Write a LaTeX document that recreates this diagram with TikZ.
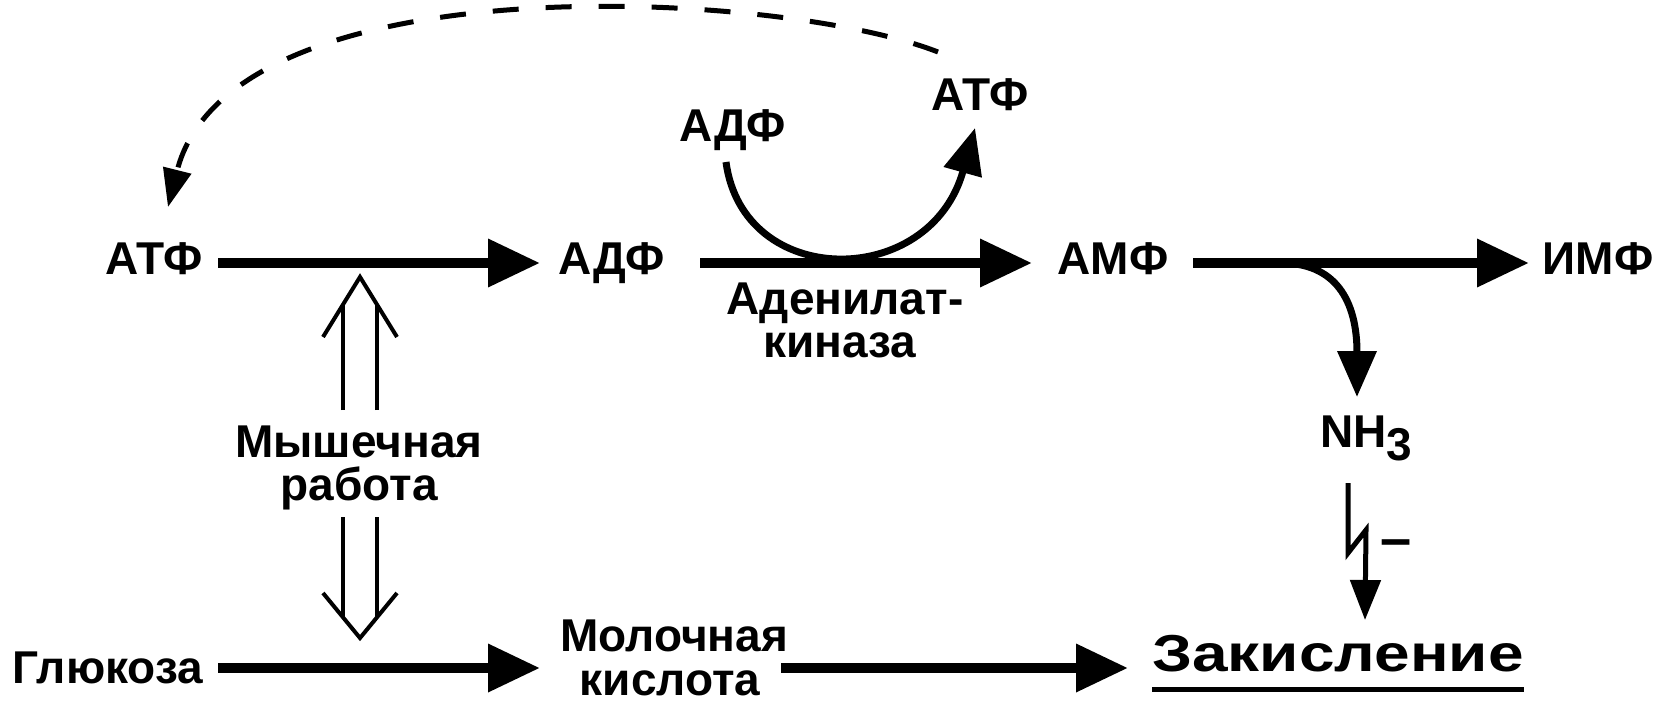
\documentclass[tikz,border=0pt]{standalone}
\usepackage{fontspec}
\usepackage{graphicx}
\setmainfont{Liberation Sans}
\usetikzlibrary{arrows.meta}
\begin{document}
\begin{tikzpicture}[x=1pt,y=-1pt,
  lbl/.style={font=\fontsize{46}{46}\selectfont\bfseries, inner sep=0pt, anchor=base},
  bigarrow/.style={line width=10pt, -{Triangle[length=52pt,width=46pt]}},
  curvearrow/.style={line width=7pt, -{Triangle[length=46pt,width=38pt]}},
  openline/.style={line width=4pt},
  dasharrow/.style={line width=5pt, dash pattern=on 26pt off 27pt, -{Triangle[length=38pt,width=28pt]}},
  lightarrow/.style={line width=5pt, -{Triangle[length=40pt,width=30pt]}},
]
\useasboundingbox (0,0) rectangle (1654,703);

% labels
\node[lbl] (atpL) at (154,275) {АТФ};
\node[lbl] (adp) at (612,275) {АДФ};
\node[lbl] (amp) at (1113,275) {АМФ};
\node[lbl] (imp) at (1598,275) {ИМФ};
\node[lbl] (adpT) at (733,142) {АДФ};
\node[lbl] (atpT) at (980,111) {АТФ};
\node[lbl] (aden1) at (845,315) {Аденилат-};
\node[lbl] (aden2) at (840,357) {киназа};
\node[lbl] (work1) at (359,457) {Мышечная};
\node[lbl] (work2) at (359,500) {работа};
\node[lbl] (glu) at (108,683) {Глюкоза};
\node[lbl] (lac1) at (674,651) {Молочная};
\node[lbl] (lac2) at (670,695) {кислота};
\node[lbl, font=\fontsize{52}{52}\selectfont\bfseries] (acid) at (1338,671) {\scalebox{1.23}[1]{Закисление}};
\node[lbl] (nh3) at (1366,447) {NH\lower13pt\hbox{3}};
\node[lbl, font=\fontsize{56}{56}\selectfont\bfseries] (minus) at (1396,557) {–};

% main arrows
\draw[bigarrow] ([shift={(64,-12)}]atpL.base) -- ([shift={(-72,-12)}]adp.base);
\draw[bigarrow] ([shift={(88,-12)}]adp.base) -- ([shift={(-81,-12)}]amp.base);
\draw[bigarrow] ([shift={(80,-12)}]amp.base) -- ([shift={(-69,-12)}]imp.base);
\draw[bigarrow] ([shift={(110,-15)}]glu.base) -- ([shift={(-134,17)}]lac1.base);
\draw[bigarrow] ([shift={(107,17)}]lac1.base) -- ([shift={(-210,-3)}]acid.base);

% underline
\draw[line width=5pt] ([yshift=-18pt]acid.base west) -- ([yshift=-18pt]acid.base east);

% adenylate kinase curve
\draw[curvearrow] ([shift={(-7,20)}]adpT.base) .. controls (743,290) and (930,290) .. ([shift={(-5,17)}]atpT.base);

% AMP -> NH3
\draw[curvearrow] ([shift={(168,-12)}]amp.base) .. controls (1335,263) and (1357,300) .. ([shift={(-9,-50)}]nh3.base);

% dashed feedback
\draw[dasharrow] ([shift={(-42,-59)}]atpT.base) .. controls (780,-10) and (230,-40) .. ([shift={(14,-68)}]atpL.base);

% NH3 inhibition (lightning)
\draw[lightarrow] ([shift={(-18,36)}]nh3.base) -- ++(0,70) -- ++(18,-23) -- ([shift={(27,-51)}]acid.base);

% open double arrows (muscle work)
\draw[openline] (343,410) -- (343,305) (377,410) -- (377,305);
\draw[openline] (323,337) -- (360,277) -- (397,337);
\draw[openline] (343,517) -- (343,617) (377,517) -- (377,617);
\draw[openline] (323,593) -- (360,638) -- (397,593);
\end{tikzpicture}
\end{document}
